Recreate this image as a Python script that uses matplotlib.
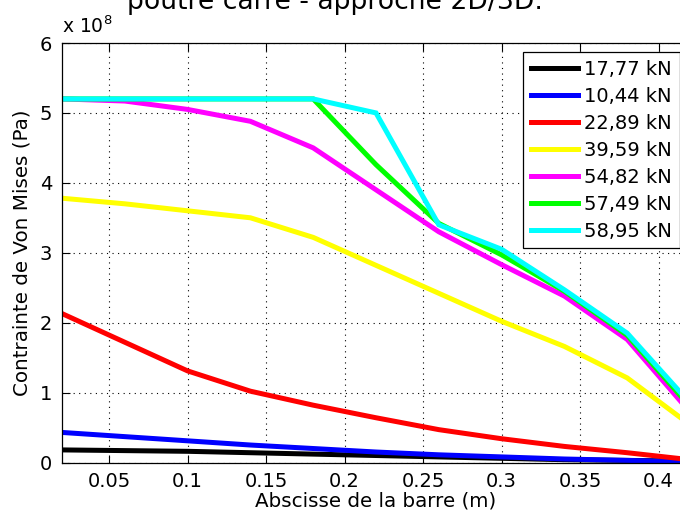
import matplotlib
matplotlib.use("Agg")
import matplotlib.pyplot as plt

plt.rcParams["font.family"] = ["DejaVu Sans"]

# abscisse le long de la barre (m)
x = [0.02, 0.06, 0.10, 0.14, 0.18, 0.22, 0.26, 0.30, 0.34, 0.38, 0.42]

# contrainte de Von Mises, en 1e8 Pa
s_1777 = [0.18, 0.17, 0.16, 0.14, 0.12, 0.10, 0.08, 0.06, 0.04, 0.03, 0.02]
s_1044 = [0.43, 0.37, 0.31, 0.25, 0.20, 0.15, 0.11, 0.08, 0.05, 0.03, 0.01]
s_2289 = [2.13, 1.72, 1.31, 1.02, 0.82, 0.64, 0.47, 0.34, 0.23, 0.14, 0.04]
s_3959 = [3.78, 3.70, 3.60, 3.50, 3.22, 2.82, 2.42, 2.02, 1.66, 1.21, 0.54]
s_5482 = [5.20, 5.17, 5.05, 4.88, 4.50, 3.90, 3.30, 2.83, 2.38, 1.76, 0.72]
s_5749 = [5.20, 5.20, 5.20, 5.20, 5.20, 4.26, 3.42, 2.97, 2.45, 1.82, 0.80]
s_5895 = [5.20, 5.20, 5.20, 5.20, 5.20, 5.00, 3.40, 3.05, 2.47, 1.85, 0.85]

series = [s_1777, s_1044, s_2289, s_3959, s_5482, s_5749, s_5895]
labels = ["17,77 kN", "10,44 kN", "22,89 kN", "39,59 kN", "54,82 kN", "57,49 kN", "58,95 kN"]
colors = ["#000000", "#0000ff", "#ff0000", "#ffff00", "#ff00ff", "#00ff00", "#00ffff"]

fig = plt.figure(figsize=(6.8, 5.19), dpi=100)
ax = fig.add_axes([62 / 680, 1 - 462.5 / 519, 628 / 680, 419.5 / 519])

for s, lab, c in zip(series, labels, colors):
    ax.plot(x, s, color=c, lw=3.6, label=lab, solid_joinstyle="miter")

ax.set_xlim(0.02, 0.42)
ax.set_ylim(0, 6)
ax.set_xticks([0.05, 0.1, 0.15, 0.2, 0.25, 0.3, 0.35, 0.4])
ax.set_xticklabels(["0.05", "0.1", "0.15", "0.2", "0.25", "0.3", "0.35", "0.4"])
ax.set_yticks([0, 1, 2, 3, 4, 5, 6])
ax.tick_params(direction="in", length=6, width=0.8, top=True, right=True,
               labelsize=14, pad=7)
ax.grid(True, color="black", linestyle=(0, (1, 4)), linewidth=0.8)
for sp in ax.spines.values():
    sp.set_linewidth(0.9)

ax.set_xlabel("Abscisse de la barre (m)", fontsize=14.3, labelpad=0)
ax.set_ylabel("Contrainte de Von Mises (Pa)", fontsize=14.3, labelpad=6)
ax.text(0.0, 1.015, r"x 10$^{8}$", transform=ax.transAxes, fontsize=13.5,
        ha="left", va="bottom")

fig.text(335 / 680, 1 - 9 / 519, "poutre carre - approche 2D/3D.", fontsize=19.2,
         ha="center", va="baseline")

leg = ax.legend(loc="upper left", bbox_to_anchor=(523 / 680, 1 - 52 / 519),
                bbox_transform=fig.transFigure, borderaxespad=0, fontsize=14,
                handlelength=2.45, handletextpad=0.3, labelspacing=0.41,
                borderpad=0.4, fancybox=False, framealpha=1)
leg.get_frame().set_edgecolor("black")
leg.get_frame().set_linewidth(0.9)

fig.savefig("out.png", dpi=100)
